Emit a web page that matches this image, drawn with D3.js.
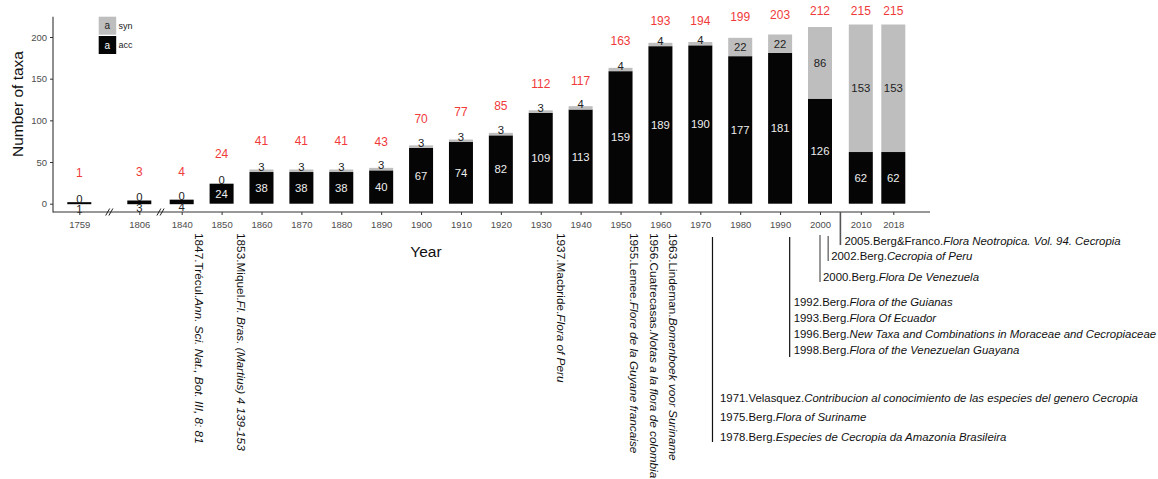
<!DOCTYPE html>
<html><head><meta charset="utf-8">
<script src="https://cdn.jsdelivr.net/npm/d3@7"></script>
<style>body{margin:0;background:#fff}svg{display:block;font-family:"Liberation Sans",Arial,sans-serif}</style>
</head><body><svg id="c" width="1158" height="479"></svg>
<script>
// ---- data ----
const years = [1759,1806,1840,1850,1860,1870,1880,1890,1900,1910,1920,1930,1940,1950,1960,1970,1980,1990,2000,2010,2018];
const acc   = [1,3,4,24,38,38,38,40,67,74,82,109,113,159,189,190,177,181,126,62,62];
const syn   = [0,0,0,0,3,3,3,3,3,3,3,3,4,4,4,4,22,22,86,153,153];
const totalLabelY = [37,38,38,60,75,75,75,74,102,110,117,144,148,195,219,220,224,227,231,232,231];
const yTicks = [0,50,100,150,200];
const seriesNames = ["syn","acc"];
const vertRefs = [
  {at:1844.4, head:"1847.Trécul.", title:"Ann. Sci. Nat., Bot. III, 8: 81"},
  {at:1854.8, head:"1853.Miquel.", title:"Fl. Bras. (Martius) 4 139-153"},
  {at:1935.0, head:"1937.Macbride.", title:"Flora of Peru"},
  {at:1953.3, head:"1955.Lemee.", title:"Flore de la Guyane francaise"},
  {at:1958.3, head:"1956.Cuatrecasas.", title:"Notas a la flora de colombia"},
  {at:1963.3, head:"1963.Lindeman.", title:"Bomenboek voor Suriname"}
];
const groupRefs = [
  {at:2005, y0:212, y1:245, color:"#555", w:1.6, gap:4, textY:[241], refs:[["2005.Berg&Franco.","Flora Neotropica. Vol. 94. Cecropia"]]},
  {at:2002, y0:236, y1:261, color:"#555", w:1.2, gap:3, textY:[256.5], refs:[["2002.Berg.","Cecropia of Peru"]]},
  {at:2000, y0:235, y1:282, color:"#555", w:1.2, gap:3, textY:[277.5], refs:[["2000.Berg.","Flora De Venezuela"]]},
  {at:1992.4, y0:237, y1:357, color:"#111", w:1.2, gap:4, textY:[302.5,318.5,334.5,350],
   refs:[["1992.Berg.","Flora of the Guianas"],["1993.Berg.","Flora Of Ecuador"],["1996.Berg.","New Taxa and Combinations in Moraceae and Cecropiaceae"],["1998.Berg.","Flora of the Venezuelan Guayana"]]},
  {at:1973.05, y0:237, y1:442, color:"#111", w:1.2, gap:7.5, textY:[398.5,417.5,437.5],
   refs:[["1971.Velasquez.","Contribucion al conocimiento de las especies del genero Cecropia"],["1975.Berg.","Flora of Suriname"],["1978.Berg.","Especies de Cecropia da Amazonia Brasileira"]]}
];

// ---- layout ----
const svg = d3.select("#c");
const axisY0 = 212, axisX0 = 53, axisX1 = 930, axisTop = 16.7;
const x = d3.scaleLinear().domain([1759,1806,1840,2000,2010,2018]).range([79.3,139.3,181.7,820,860.8,893.3]);
const y = d3.scaleLinear().domain([0,200]).range([203.7,37]);
const bw = 24;
const colAcc = "#050505", colSyn = "#bebebe", red = "#f03a3a";

// bars
const rows = years.map((yr,i)=>({yr, acc:acc[i], syn:syn[i], tot:acc[i]+syn[i], ly:totalLabelY[i]}));
const g = svg.append("g");
g.selectAll("rect.acc").data(rows).join("rect").attr("class","acc")
  .attr("x",d=>x(d.yr)-bw/2).attr("width",bw)
  .attr("y",d=>y(d.acc)-(d.acc<5?0.7:0)).attr("height",d=>y(0)-y(d.acc)+(d.acc<5?1.2:0)).attr("fill",colAcc);
g.selectAll("rect.syn").data(rows.filter(d=>d.syn>0)).join("rect").attr("class","syn")
  .attr("x",d=>x(d.yr)-bw/2).attr("width",bw)
  .attr("y",d=>y(d.tot)).attr("height",d=>y(d.acc)-y(d.tot)).attr("fill",colSyn);

// labels
const lab = svg.append("g").attr("font-size",11.3).attr("text-anchor","middle");
lab.selectAll("text.al").data(rows).join("text")
  .attr("x",d=>x(d.yr)).attr("y",d=>y(d.acc/2)+(d.acc<5?9.4:0))
  .attr("dy",d=>d.acc<5?0:"0.35em")
  .attr("fill",d=>d.acc<5?"#222":"#eeeeee").text(d=>d.acc);
lab.selectAll("text.sl").data(rows).join("text")
  .attr("x",d=>x(d.yr)).attr("y",d=>y(d.acc+d.syn/2))
  .attr("dy",d=>d.syn<5?0:"0.35em")
  .attr("fill","#222").text(d=>d.syn);
lab.selectAll("text.tl").data(rows).join("text")
  .attr("x",d=>x(d.yr)).attr("y",d=>y(d.ly)).attr("dy","0.35em")
  .attr("font-size",12).attr("fill",red).text(d=>d.tot);

// y axis
const ya = svg.append("g").attr("transform",`translate(${axisX0},0)`)
  .call(d3.axisLeft(y).tickValues(yTicks).tickSize(3).tickPadding(3));
ya.select(".domain").remove();
ya.selectAll("line").attr("stroke","#333");
ya.selectAll("text").attr("font-size",9.5).attr("fill","#4d4d4d").attr("font-family",null);
svg.append("line").attr("x1",axisX0).attr("x2",axisX0).attr("y1",axisTop).attr("y2",axisY0+0.5).attr("stroke","#333").attr("stroke-width",1.1);

// x axis
const xa = svg.append("g").attr("transform",`translate(0,${axisY0})`)
  .call(d3.axisBottom(x).tickValues(years).tickFormat(d3.format("d")).tickSize(3).tickPadding(6));
xa.select(".domain").remove();
xa.selectAll("line").attr("stroke","#333");
xa.selectAll("text").attr("font-size",9.5).attr("fill","#4d4d4d").attr("font-family",null);
svg.append("line").attr("x1",axisX0).attr("x2",axisX1).attr("y1",axisY0).attr("y2",axisY0).attr("stroke","#333").attr("stroke-width",1.1);

// axis break marks
[1782.5, 1823].forEach(b=>{
  const cx = x(b);
  [-1.6,1.6].forEach(o=>{
    svg.append("line").attr("x1",cx+o-2).attr("y1",axisY0+3.5).attr("x2",cx+o+2).attr("y2",axisY0-3.5)
      .attr("stroke","#222").attr("stroke-width",1);
  });
});

// titles
svg.append("text").attr("transform","translate(23,104) rotate(-90)").attr("text-anchor","middle")
  .attr("font-size",15.5).attr("fill","#111").text("Number of taxa");
svg.append("text").attr("x",426).attr("y",252).attr("dy","0.35em").attr("text-anchor","middle")
  .attr("font-size",15.5).attr("fill","#111").text("Year");

// legend
const leg = svg.append("g");
seriesNames.forEach((s,i)=>{
  const y0 = 16.7 + i*19.3;
  leg.append("rect").attr("x",98.7).attr("y",y0).attr("width",17.5).attr("height",18).attr("fill",s==="syn"?colSyn:colAcc);
  leg.append("text").attr("x",98.7+8.7).attr("y",y0+9).attr("dy","0.35em").attr("text-anchor","middle")
    .attr("font-size",10).attr("fill",s==="syn"?"#222":"#fff").text("a");
  leg.append("text").attr("x",118.5).attr("y",y0+9).attr("dy","0.35em").attr("font-size",9).attr("fill","#222").text(s);
});

// vertical references
const vr = svg.append("g").attr("font-size",11.8).attr("fill","#111");
vertRefs.forEach(r=>{
  const t = vr.append("text").attr("transform",`translate(${x(r.at)},233) rotate(90)`).attr("dy","0.35em");
  t.append("tspan").text(r.head);
  t.append("tspan").attr("font-style","italic").text(r.title);
});

// grouped references
groupRefs.forEach(gr=>{
  const lx = x(gr.at);
  svg.append("line").attr("x1",lx).attr("x2",lx).attr("y1",gr.y0).attr("y2",gr.y1).attr("stroke",gr.color).attr("stroke-width",gr.w);
  gr.refs.forEach((r,i)=>{
    const t = svg.append("text").attr("x",lx+gr.gap).attr("y",gr.textY[i]).attr("dy","0.35em").attr("font-size",11.4).attr("fill","#111");
    t.append("tspan").text(r[0]);
    t.append("tspan").attr("font-style","italic").text(r[1]);
  });
});
</script></body></html>
